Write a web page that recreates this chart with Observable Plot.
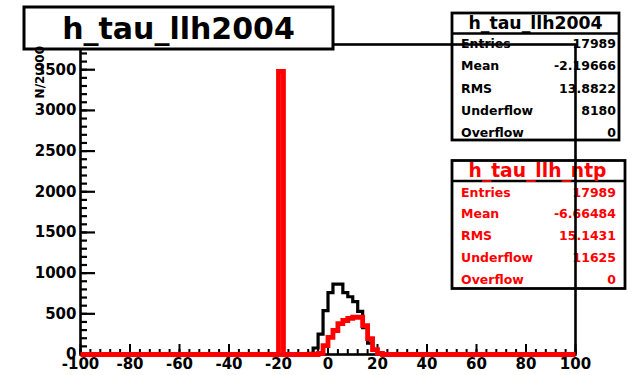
<!DOCTYPE html>
<html><head><meta charset="utf-8">
<script src="https://cdn.jsdelivr.net/npm/d3@7"></script>
<script src="https://cdn.jsdelivr.net/npm/@observablehq/plot@0.6"></script>
<style>body{margin:0;background:#fff}svg{display:block}</style>
</head><body><div id="chart"></div>
<script>
// ---- data ----
const histTitle = "h_tau_llh2004";
const xLow = -100, xHigh = 100, binWidth = 2;
// non-empty bins (bin start -> count); all other bins are 0
const blackBinStarts = [-20, -8, -6, -4, -2, 0, 2, 4, 6, 8, 10, 12, 14, 16, 18, 20];
const blackCounts    = [3480, 15, 80, 250, 540, 760, 865, 865, 760, 710, 650, 530, 330, 140, 60, 20];
const redBinStarts   = [-20, -4, -2, 0, 2, 4, 6, 8, 10, 12, 14, 16, 18, 20];
const redCounts      = [3480, 15, 110, 210, 295, 380, 418, 445, 458, 458, 356, 196, 60, 15];
const xMajorTicks = [-100, -80, -60, -40, -20, 0, 20, 40, 60, 80, 100];
const xMinorTicks = d3.range(-100, 101, 4);
const yMajorTicks = [0, 500, 1000, 1500, 2000, 2500, 3000, 3500];
const yMinorTicks = d3.range(0, 3801, 100);
const yLabel = "N/2.000";
const statNames = ["Entries", "Mean", "RMS", "Underflow", "Overflow"];
const blackStatTitle = "h_tau_llh2004";
const blackStats = ["17989", "-2.19666", "13.8822", "8180", "0"];
const redStatTitle = "h_tau_llh_ntp";
const redStats = ["17989", "-6.66484", "15.1431", "11625", "0"];

// ---- build step outlines ----
const edges = d3.range(xLow, xHigh, binWidth);
function steps(starts, counts) {
  const m = new Map(starts.map((s, i) => [s, counts[i]]));
  const pts = edges.map(e => ({x: e, y: m.get(e) ?? 0}));
  pts.push({x: xHigh, y: pts[pts.length - 1].y});
  return pts;
}
const blackSteps = steps(blackBinStarts, blackCounts);
const redSteps = steps(redBinStarts, redCounts);

const FONT = "DejaVu Sans";
const plot = Plot.plot({
  width: 633, height: 375,
  marginLeft: 80, marginRight: 58, marginTop: 44, marginBottom: 21,
  style: {fontFamily: FONT, fontWeight: "bold", fontSize: "15px", background: "white", color: "black"},
  x: {domain: [xLow, xHigh]},
  y: {domain: [0, 3810]},
  marks: [
    Plot.frame({stroke: "black", strokeWidth: 2.6}),
    Plot.axisX({ticks: xMinorTicks, tickSize: -5, tickFormat: () => "", strokeWidth: 2, label: null}),
    Plot.axisX({ticks: xMajorTicks, tickSize: -10, tickFormat: () => "", strokeWidth: 2, label: null}),
    Plot.axisX({ticks: xMajorTicks, tickSize: 0, tickPadding: 4, tickFormat: d => String(d), label: null, fill: "black"}),
    Plot.axisY({ticks: yMinorTicks, tickSize: -7, tickFormat: () => "", strokeWidth: 2.2, label: null}),
    Plot.axisY({ticks: yMajorTicks, tickSize: -15, tickFormat: () => "", strokeWidth: 2.2, label: null}),
    Plot.axisY({ticks: yMajorTicks, tickSize: 0, tickPadding: 4, tickFormat: d => String(d), label: null, fill: "black"}),
    Plot.line(blackSteps, {x: "x", y: "y", curve: "step-after", stroke: "black", strokeWidth: 3.2, strokeLinejoin: "miter", strokeLinecap: "butt"}),
    Plot.line(redSteps, {x: "x", y: "y", curve: "step-after", stroke: "#ff0000", strokeWidth: 4.8, strokeLinejoin: "miter", strokeLinecap: "butt"})
  ]
});
document.getElementById("chart").appendChild(plot);

const svg = d3.select(plot);
svg.selectAll("[aria-label=line], [aria-label=line] path")
  .attr("stroke-linejoin", "miter").attr("stroke-miterlimit", 10).attr("stroke-linecap", "butt");

// stats boxes (under the frame)
function statBox(g, o) {
  const b = g.append("g");
  b.append("rect").attr("x", o.x0).attr("y", o.y0).attr("width", o.x1 - o.x0).attr("height", o.y1 - o.y0)
    .attr("fill", "white").attr("stroke", "black").attr("stroke-width", 2.8);
  b.append("line").attr("x1", o.x0).attr("x2", o.x1).attr("y1", o.sep).attr("y2", o.sep)
    .attr("stroke", "black").attr("stroke-width", 2.4);
  b.append("text").attr("x", o.tx).attr("y", o.tb).attr("text-anchor", "middle")
    .attr("font-family", FONT).attr("font-weight", "bold").attr("font-size", o.ts)
    .attr("fill", o.color).text(o.title);
  o.names.forEach((n, i) => {
    b.append("text").attr("x", o.x0 + 9).attr("y", o.rows[i]).attr("text-anchor", "start")
      .attr("font-family", FONT).attr("font-weight", "bold").attr("font-size", 12.5)
      .attr("fill", o.color).text(n);
    b.append("text").attr("x", 616).attr("y", o.rows[i]).attr("text-anchor", "end")
      .attr("font-family", FONT).attr("font-weight", "bold").attr("font-size", 12.5)
      .attr("fill", o.color).text(o.values[i]);
  });
}
const under = svg.insert("g", "[aria-label=frame]");
statBox(under, {x0: 452, x1: 619, y0: 13, y1: 140, sep: 33.5, tx: 535.5, tb: 28.5, ts: 17.3,
  title: blackStatTitle, names: statNames, values: blackStats, color: "black",
  rows: [48, 70.3, 92.5, 114.5, 136.5]});
statBox(under, {x0: 452, x1: 625, y0: 160.5, y1: 288.5, sep: 181, tx: 537.5, tb: 177, ts: 18.7,
  title: redStatTitle, names: statNames, values: redStats, color: "#ff0000",
  rows: [196.5, 218.3, 240, 262, 283.5]});

// title box (on top)
const t = svg.append("g");
t.append("rect").attr("x", 24).attr("y", 7).attr("width", 309).attr("height", 42)
  .attr("fill", "white").attr("stroke", "black").attr("stroke-width", 3);
t.append("text").attr("x", 178.5).attr("y", 39).attr("text-anchor", "middle")
  .attr("font-family", FONT).attr("font-weight", "bold").attr("font-size", 30)
  .attr("fill", "black").text(histTitle);

// y axis title (drawn last, as in the reference)
svg.append("text")
  .attr("transform", "translate(44,46) rotate(-90)")
  .attr("text-anchor", "end")
  .attr("font-family", FONT).attr("font-weight", "bold").attr("font-size", 12)
  .attr("fill", "black").text(yLabel);
</script></body></html>
